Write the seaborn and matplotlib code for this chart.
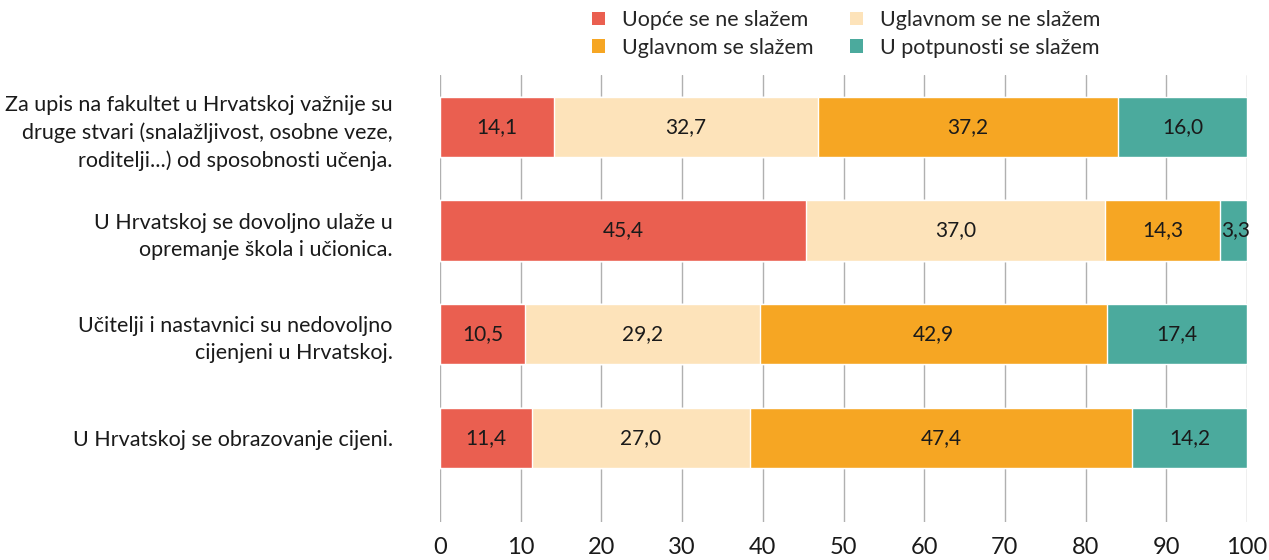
import matplotlib
matplotlib.use("Agg")
import matplotlib.pyplot as plt
from matplotlib.patches import Patch
import seaborn as sns
import pandas as pd
import numpy as np

statements = [
    "Za upis na fakultet u Hrvatskoj važnije su\ndruge stvari (snalažljivost, osobne veze,\nroditelji...) od sposobnosti učenja.",
    "U Hrvatskoj se dovoljno ulaže u\nopremanje škola i učionica.",
    "Učitelji i nastavnici su nedovoljno\ncijenjeni u Hrvatskoj.",
    "U Hrvatskoj se obrazovanje cijeni.",
]
series_names = ["Uopće se ne slažem", "Uglavnom se ne slažem",
                "Uglavnom se slažem", "U potpunosti se slažem"]
uopce_ne = [14.1, 45.4, 10.5, 11.4]
uglavnom_ne = [32.7, 37.0, 29.2, 27.0]
uglavnom_da = [37.2, 14.3, 42.9, 47.4]
potpuno_da = [16.0, 3.3, 17.4, 14.2]
colors = ["#EA5F50", "#FDE3BA", "#F6A623", "#4BAA9D"]

sns.set_theme(style="white")
plt.rcParams["font.family"] = ["Lato", "DejaVu Sans"]

values = np.array([uopce_ne, uglavnom_ne, uglavnom_da, potpuno_da])
cum = np.cumsum(values, axis=0)

fig = plt.figure(figsize=(12.69, 5.6), dpi=100)
ax = fig.add_axes([440 / 1269, 1 - 522 / 560, 807 / 1269, 447 / 560])

# stacked bars: draw cumulative totals, longest first
for i in range(3, -1, -1):
    df = pd.DataFrame({"stmt": statements, "val": cum[i]})
    sns.barplot(data=df, x="val", y="stmt", orient="h", color=colors[i],
                saturation=1, width=0.58, ax=ax, zorder=2)

# segment labels
for i in range(4):
    starts = cum[i] - values[i]
    for j in range(len(statements)):
        v = values[i][j]
        xc = starts[j] + v / 2
        if v < 5:
            xc = 100 - v / 2 + 0.2
        ax.text(xc, j, f"{v:.1f}".replace(".", ","), ha="center", va="center",
                fontsize=15, color="#1a1a1a", zorder=3)

ax.set_xlim(0, 100)
ax.set_ylim(3.81, -0.5)
ax.set_xticks(range(0, 101, 10))
ax.xaxis.grid(True, color="#b0b0b0", linewidth=1)
ax.set_axisbelow(True)
for s in ax.spines.values():
    s.set_visible(False)
ax.set_xlabel("")
ax.set_ylabel("")
ax.tick_params(axis="x", length=0, labelsize=17, pad=11, labelcolor="#1a1a1a")
ax.tick_params(axis="y", length=0, labelsize=15.5, pad=34, labelcolor="#1a1a1a")
for lbl in ax.get_yticklabels():
    lbl.set_horizontalalignment("right")
    lbl.set_multialignment("right")
    lbl.set_linespacing(1.45)

order = [0, 2, 1, 3]
handles = [Patch(facecolor=colors[k], edgecolor="none") for k in order]
labels = [series_names[k] for k in order]
fig.legend(handles, labels, ncol=2, loc="center", bbox_to_anchor=(846 / 1269, 1 - 34 / 560),
           frameon=False, fontsize=15.5, handlelength=0.6, handleheight=0.6,
           columnspacing=1.7, handletextpad=0.8, labelspacing=0.35)

fig.savefig("out.png", dpi=100)
